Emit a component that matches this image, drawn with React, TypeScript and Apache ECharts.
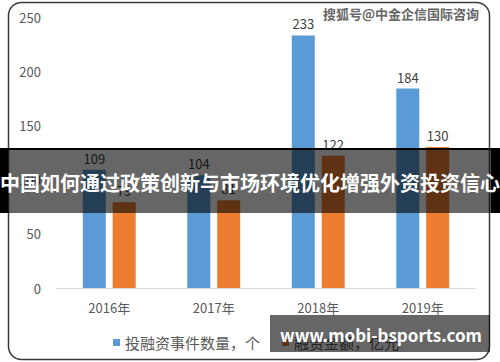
import React, { useEffect, useRef } from "react";
import * as echarts from "echarts";

const categories = ["2016年", "2017年", "2018年", "2019年"];
const eventCounts = [109, 104, 233, 184];
const financingAmounts = [79, 81, 122, 130];
const seriesNames = ["投融资事件数量，个", "融资金额，亿元"];
const bannerTitle = "中国如何通过政策创新与市场环境优化增强外资投资信心";
const watermark = "搜狐号@中金企信国际咨询";
const siteText = "www.mobi-bsports.com";

export default function App() {
  const ref = useRef<HTMLDivElement>(null);
  useEffect(() => {
    document.body.style.margin = "0";
    const chart = echarts.init(ref.current!, null, { renderer: "svg" });
    const font = "'Noto Sans CJK SC', 'Noto Sans', sans-serif";
    chart.setOption({
      animation: false,
      backgroundColor: "#ffffff",
      textStyle: { fontFamily: font },
      grid: { left: 57, right: 25, top: 17, bottom: 74, containLabel: false },
      legend: {
        left: 108,
        top: 330,
        itemWidth: 7,
        itemHeight: 7,
        itemGap: 22,
        icon: "rect",
        textStyle: { color: "#595959", fontSize: 15, fontFamily: font },
        data: seriesNames,
      },
      xAxis: {
        type: "category",
        data: categories,
        axisLine: { show: true, lineStyle: { color: "#d9d9d9", width: 1 } },
        axisTick: { show: false },
        axisLabel: { color: "#595959", fontSize: 13, margin: 13, fontFamily: font },
      },
      yAxis: {
        type: "value",
        min: 0,
        max: 250,
        interval: 50,
        axisLine: { show: false },
        axisTick: { show: false },
        splitLine: { show: false },
        axisLabel: { color: "#595959", fontSize: 13, margin: 16, fontFamily: font },
      },
      series: [
        {
          name: seriesNames[0],
          type: "bar",
          data: eventCounts,
          barWidth: 23,
          barGap: "30%",
          itemStyle: { color: "#5B9BD5" },
          label: { show: true, position: "top", color: "#404040", fontSize: 13, distance: 5, fontFamily: font },
        },
        {
          name: seriesNames[1],
          type: "bar",
          data: financingAmounts,
          barWidth: 23,
          itemStyle: { color: "#ED7D31" },
          label: { show: true, position: "top", color: "#404040", fontSize: 13, distance: 5, fontFamily: font },
        },
      ],
      graphic: [
        {
          type: "rect",
          z: 100,
          shape: { x: 8.5, y: 2.5, width: 481, height: 357, r: 13 },
          style: { fill: "none", stroke: "#3a3a3a", lineWidth: 1.5 },
        },
        {
          type: "text",
          z: 100,
          left: 322,
          top: 6,
          style: {
            text: watermark,
            fill: "#666666",
            stroke: "#ffffff",
            lineWidth: 2,
            font: "bold 13px " + font,
          },
        },
        {
          type: "rect",
          z: 110,
          shape: { x: 0, y: 148, width: 500, height: 2 },
          style: { fill: "#000000" },
        },
        {
          type: "rect",
          z: 110,
          shape: { x: 0, y: 150, width: 500, height: 63 },
          style: { fill: "rgba(0,0,0,0.6)" },
        },
        {
          type: "rect",
          z: 111,
          shape: { x: 0, y: 150, width: 8, height: 63 },
          style: { fill: "#000000" },
        },
        {
          type: "rect",
          z: 111,
          shape: { x: 491, y: 150, width: 9, height: 63 },
          style: { fill: "#000000" },
        },
        {
          type: "text",
          z: 120,
          x: 250,
          y: 182,
          style: {
            text: bannerTitle,
            fill: "#ffffff",
            font: "bold 20px " + font,
            align: "center",
            verticalAlign: "middle",
          },
        },
        {
          type: "rect",
          z: 110,
          shape: { x: 270, y: 315, width: 220, height: 37 },
          style: { fill: "rgba(0,0,0,0.6)" },
        },
        {
          type: "text",
          z: 120,
          x: 381,
          y: 334,
          style: {
            text: siteText,
            fill: "#ffffff",
            font: "bold 17px " + font,
            align: "center",
            verticalAlign: "middle",
          },
        },
      ],
    });
    return () => chart.dispose();
  }, []);
  return (
    <div
      ref={ref}
      style={{ position: "fixed", left: 0, top: 0, width: 500, height: 362 }}
    />
  );
}
